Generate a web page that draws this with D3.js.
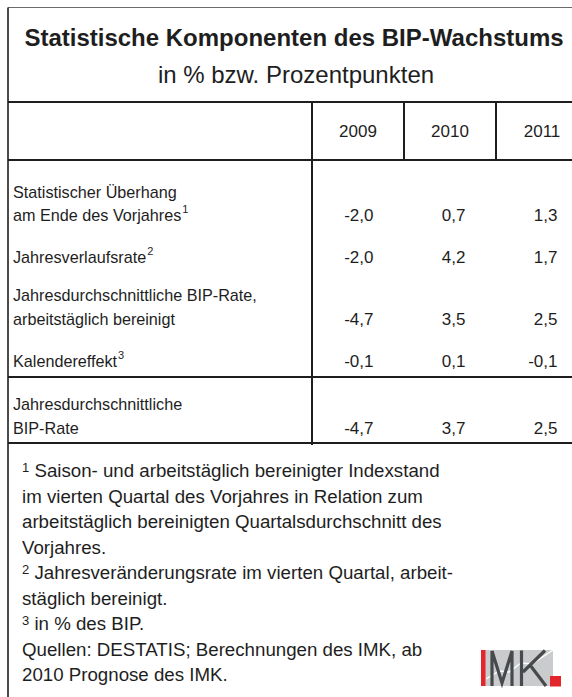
<!DOCTYPE html>
<html>
<head>
<meta charset="utf-8">
<script src="https://cdn.jsdelivr.net/npm/d3@7"></script>
<style>
  html, body { margin: 0; padding: 0; background: #fff; }
  svg { display: block; }
  text { font-family: "Liberation Sans", Arial, Helvetica, sans-serif; fill: #1e1e1e; }
</style>
</head>
<body>
<svg id="chart" width="572" height="697"></svg>
<script>
// ---------- data ----------
const title = "Statistische Komponenten des BIP-Wachstums";
const subtitle = "in % bzw. Prozentpunkten";
const years = ["2009", "2010", "2011"];
const rowLabels = [
  ["Statistischer Überhang", "am Ende des Vorjahres"],
  ["Jahresverlaufsrate"],
  ["Jahresdurchschnittliche BIP-Rate,", "arbeitstäglich bereinigt"],
  ["Kalendereffekt"],
  ["Jahresdurchschnittliche", "BIP-Rate"]
];
const rowNotes = ["1", "2", "", "3", ""];
const values2009 = [-2.0, -2.0, -4.7, -0.1, -4.7];
const values2010 = [0.7, 4.2, 3.5, 0.1, 3.7];
const values2011 = [1.3, 1.7, 2.5, -0.1, 2.5];
const footnotes = [
  ["1", "Saison- und arbeitstäglich bereinigter Indexstand"],
  ["", "im vierten Quartal des Vorjahres in Relation zum"],
  ["", "arbeitstäglich bereinigten Quartalsdurchschnitt des"],
  ["", "Vorjahres."],
  ["2", "Jahresveränderungsrate im vierten Quartal, arbeit-"],
  ["", "stäglich bereinigt."],
  ["3", "in % des BIP."],
  ["", "Quellen: DESTATIS; Berechnungen des IMK, ab"],
  ["", "2010 Prognose des IMK."]
];

// ---------- layout ----------
const svg = d3.select("#chart");
const fmt = d3.formatLocale({decimal: ",", thousands: ".", grouping: [3], currency: ["", "€"], minus: "-"}).format(".1f");
const seriesByYear = [values2009, values2010, values2011];

const boxLeft = 8, boxTop = 7.5, boxRight = 600;
const titleLineY = 102, headerLineY = 160, sepLineY = 377, bottomLineY = 443;
const labelColRight = 312;
const col = d3.scaleBand().domain(years).range([312, 588]);
const rowBaseline = d3.scaleOrdinal().domain(d3.range(rowLabels.length)).range([221, 263, 324.5, 366.5, 433.5]);
const footY = d3.scaleLinear().domain([0, footnotes.length - 1]).range([477, 681]);
const lineGap = 23.5;
const lineColor = "#1e1e1e";
const bodySize = 16.2, footSize = 18.7;

// frame
svg.append("line").attr("x1", boxLeft).attr("x2", boxRight).attr("y1", boxTop).attr("y2", boxTop)
  .attr("stroke", "#6a6a6a").attr("stroke-width", 1.2);
svg.append("line").attr("x1", boxLeft).attr("x2", boxLeft).attr("y1", boxTop).attr("y2", 697)
  .attr("stroke", lineColor).attr("stroke-width", 1.6);

// horizontal rules
[titleLineY, headerLineY, sepLineY, bottomLineY].forEach(y => {
  svg.append("line").attr("x1", boxLeft).attr("x2", boxRight).attr("y1", y).attr("y2", y)
    .attr("stroke", lineColor).attr("stroke-width", 2);
});
// vertical rules
svg.append("line").attr("x1", labelColRight).attr("x2", labelColRight)
  .attr("y1", titleLineY).attr("y2", bottomLineY + 2).attr("stroke", lineColor).attr("stroke-width", 2);
years.slice(1).forEach(y => {
  svg.append("line").attr("x1", col(y)).attr("x2", col(y))
    .attr("y1", titleLineY).attr("y2", headerLineY).attr("stroke", lineColor).attr("stroke-width", 2);
});

// title
svg.append("text").attr("x", 294).attr("y", 46).attr("text-anchor", "middle")
  .attr("font-weight", "bold").attr("font-size", 24).text(title);
svg.append("text").attr("x", 296).attr("y", 83).attr("text-anchor", "middle")
  .attr("font-size", 24).text(subtitle);

// header years
svg.selectAll("text.year").data(years).enter().append("text").attr("class", "year")
  .attr("x", d => col(d) + col.bandwidth() / 2).attr("y", 137)
  .attr("text-anchor", "middle").attr("font-size", 17).text(d => d);

// row labels
rowLabels.forEach((lines, i) => {
  const base = rowBaseline(i);
  lines.forEach((ln, j) => {
    const t = svg.append("text").attr("x", 13).attr("y", base - lineGap * (lines.length - 1 - j))
      .attr("font-size", bodySize);
    t.append("tspan").text(ln);
    if (j === lines.length - 1 && rowNotes[i]) {
      t.append("tspan").attr("font-size", 11).attr("dy", -8).attr("dx", 1).text(rowNotes[i]);
    }
  });
});

// values
seriesByYear.forEach((vals, k) => {
  svg.selectAll("text.v" + k).data(vals).enter().append("text").attr("class", "v" + k)
    .attr("x", col(years[k]) + col.bandwidth() - 30.5)
    .attr("y", (d, i) => rowBaseline(i))
    .attr("text-anchor", "end").attr("font-size", 17).text(d => fmt(d));
});

// footnotes
footnotes.forEach((f, i) => {
  const t = svg.append("text").attr("x", 22).attr("y", footY(i)).attr("font-size", footSize);
  if (f[0]) {
    t.append("tspan").attr("font-size", 13).attr("dy", -5).text(f[0]);
    t.append("tspan").attr("dy", 5).text(" " + f[1]);
  } else {
    t.text(f[1]);
  }
});

// IMK logo
const logo = svg.append("g").attr("transform", "translate(0,2)");
logo.append("rect").attr("x", 481).attr("y", 648).attr("width", 72).attr("height", 36).attr("fill", "#c9cbcd");
logo.append("polyline")
  .attr("points", "486,677 499,669 509,670 521,661 532,662 553,648")
  .attr("fill", "none").attr("stroke", "#ffffff").attr("stroke-width", 1.4);
logo.append("rect").attr("x", 481).attr("y", 648).attr("width", 4.5).attr("height", 36).attr("fill", "#e3262b");
logo.append("path")
  .attr("d", "M492,684 V649 L502,681 L512,649 V684 M521.5,684 V648.5 M545,648.5 L523,670 M530,663 L546,684")
  .attr("fill", "none").attr("stroke", "#474a4c").attr("stroke-width", 3.2).attr("stroke-linejoin", "miter");
logo.append("rect").attr("x", 550).attr("y", 674).attr("width", 11).attr("height", 10.5).attr("fill", "#e3262b");
</script>
</body>
</html>
